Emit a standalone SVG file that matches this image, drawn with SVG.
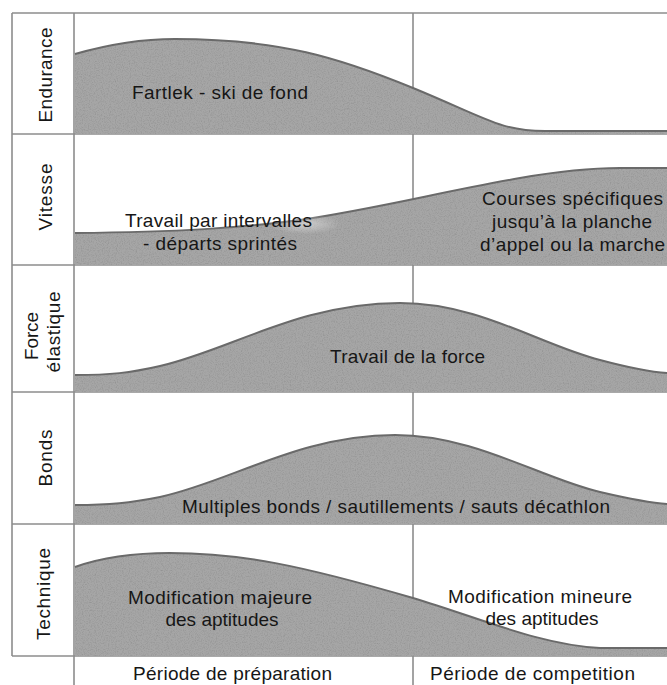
<svg xmlns="http://www.w3.org/2000/svg" width="667" height="685" viewBox="0 0 667 685">
<style>
.grid{stroke:#8c8c8c;stroke-width:1.6;fill:none}
.area{fill:#a6a6a6;filter:url(#grain)}
.edge{fill:none;stroke:#6a6a6a;stroke-width:2}
.t{font-family:"Liberation Sans",Arial,Helvetica,sans-serif;font-size:19px;fill:#161616;text-anchor:middle}
</style>
<defs>
<filter id="grain" x="0" y="0" width="100%" height="100%">
<feTurbulence type="fractalNoise" baseFrequency="0.85" numOctaves="2" seed="4" result="n"/>
<feColorMatrix in="n" type="matrix" values="0 0 0 0 0  0 0 0 0 0  0 0 0 0 0  0.5 0 0 0 -0.22" result="specks"/>
<feComposite in="specks" in2="SourceGraphic" operator="in" result="sp"/>
<feMerge><feMergeNode in="SourceGraphic"/><feMergeNode in="sp"/></feMerge>
</filter>
<radialGradient id="halo" cx="0.5" cy="0.5" r="0.5">
<stop offset="0" stop-color="#fff" stop-opacity="0.45"/>
<stop offset="1" stop-color="#fff" stop-opacity="0"/>
</radialGradient>
</defs>
<rect width="667" height="685" fill="#fff"/>

<g id="connectors" class="grid">
<line x1="12" y1="13" x2="667" y2="13"/>
<line x1="12" y1="134" x2="667" y2="134"/>
<line x1="12" y1="265" x2="667" y2="265"/>
<line x1="12" y1="392" x2="667" y2="392"/>
<line x1="12" y1="524" x2="667" y2="524"/>
<line x1="12" y1="656" x2="667" y2="656"/>
<line x1="12" y1="13" x2="12" y2="656"/>
<line x1="74" y1="13" x2="74" y2="685"/>
<line x1="413" y1="13" x2="413" y2="685"/>
</g>

<g id="endurance">
<path class="area" d="M75,54 C110,44 140,39 175,39 C280,39 340,58 413,88 C486,118 500,131 545,131 L667,131 L667,134 L75,134 Z"/>
<path class="edge" d="M75,54 C110,44 140,39 175,39 C280,39 340,58 413,88 C486,118 500,131 545,131 L667,131"/>
<text class="t" transform="translate(52,75) rotate(-90)" textLength="95">Endurance</text>
<text class="t" x="220" y="99" textLength="176">Fartlek - ski de fond</text>
</g>

<g id="vitesse">
<path class="area" d="M75,233 C180,232 240,228 300,220 C380,208 440,192 520,178 C560,171 590,168 620,168 L667,168 L667,265 L75,265 Z"/>
<path class="edge" d="M75,233 C180,232 240,228 300,220 C380,208 440,192 520,178 C560,171 590,168 620,168 L667,168"/>
<ellipse cx="305" cy="224" rx="36" ry="10" fill="url(#halo)"/>
<text class="t" transform="translate(52,197) rotate(-90)" textLength="67">Vitesse</text>
<text class="t" x="218.5" y="227" textLength="187">Travail par intervalles</text>
<text class="t" x="220" y="250" textLength="154">- départs sprintés</text>
<text class="t" x="572.5" y="205" textLength="181">Courses spécifiques</text>
<text class="t" x="572" y="228" textLength="160">jusqu’à la planche</text>
<text class="t" x="572.5" y="251" textLength="185">d’appel ou la marche</text>
</g>

<g id="force-elastique">
<path class="area" d="M75,375 C110,375 130,373 160,366 C230,350 300,303 400,303 C480,303 540,345 600,360 C630,368 650,372 667,373 L667,392 L75,392 Z"/>
<path class="edge" d="M75,375 C110,375 130,373 160,366 C230,350 300,303 400,303 C480,303 540,345 600,360 C630,368 650,372 667,373"/>
<text class="t" transform="translate(38,336) rotate(-90)" textLength="48">Force</text>
<text class="t" transform="translate(60,332) rotate(-90)" textLength="81">élastique</text>
<text class="t" x="407.5" y="363" textLength="155">Travail de la force</text>
</g>

<g id="bonds">
<path class="area" d="M75,505 C110,505 130,503 160,497 C230,482 300,435 395,435 C475,435 540,478 600,492 C630,499 650,503 667,504 L667,524 L75,524 Z"/>
<path class="edge" d="M75,505 C110,505 130,503 160,497 C230,482 300,435 395,435 C475,435 540,478 600,492 C630,499 650,503 667,504"/>
<text class="t" transform="translate(52,458) rotate(-90)" textLength="57">Bonds</text>
<text class="t" x="396" y="513" textLength="428">Multiples bonds / sautillements / sauts décathlon</text>
</g>

<g id="technique">
<path class="area" d="M75,567 C100,558 130,553 170,553 C240,553 300,565 413,598 C480,618 540,645 600,648 L667,648 L667,656 L75,656 Z"/>
<path class="edge" d="M75,567 C100,558 130,553 170,553 C240,553 300,565 413,598 C480,618 540,645 600,648 L667,648"/>
<text class="t" transform="translate(50,594) rotate(-90)" textLength="92">Technique</text>
<text class="t" x="220" y="604" textLength="184">Modification majeure</text>
<text class="t" x="222" y="626">des aptitudes</text>
<text class="t" x="540" y="603" textLength="184">Modification mineure</text>
<text class="t" x="542" y="625">des aptitudes</text>
</g>

<g id="periodes">
<text class="t" x="232.5" y="680" textLength="199">Période de préparation</text>
<text class="t" x="532.5" y="680" textLength="205">Période de competition</text>
</g>
</svg>
